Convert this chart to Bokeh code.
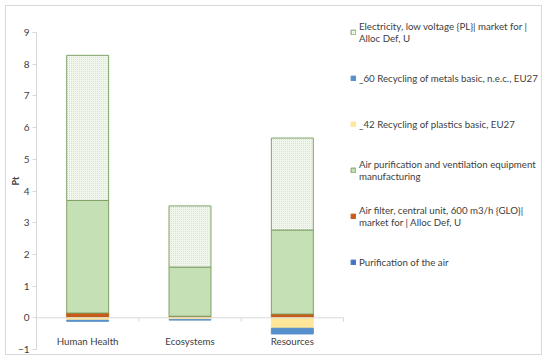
import numpy as np
from bokeh.plotting import figure
from bokeh.models import ColumnDataSource, Legend, LegendItem, Range1d, FixedTicker
from bokeh.embed import file_html
from bokeh.resources import INLINE

categories = ["Human Health", "Ecosystems", "Resources"]
series = [
    "Purification of the air",
    "Air filter, central unit, 600 m3/h {GLO}|\nmarket for | Alloc Def, U",
    "Air purification and ventilation equipment\nmanufacturing",
    "_42 Recycling of plastics basic, EU27",
    "_60 Recycling of metals basic, n.e.c., EU27",
    "Electricity, low voltage {PL}| market for |\nAlloc Def, U",
]
purification = [0.0, 0.0, 0.0]
air_filter = [0.15, 0.05, 0.12]
equipment = [3.55, 1.55, 2.65]
plastics = [-0.08, -0.06, -0.33]
metals = [-0.03, -0.01, -0.18]
electricity = [4.58, 1.93, 2.90]
y_ticks = [-1, 0, 1, 2, 3, 4, 5, 6, 7, 8, 9]

values = [purification, air_filter, equipment, plastics, metals, electricity]
fills = ["#4472c4", "#c65b1a", "#c5e0b4", "#ffe699", "#5590cc", "#f1f7ec"]
lines = ["#4472c4", "#c65b1a", "#7fa266", "#ffe699", "#5590cc", "#7fa266"]

W, H = 537, 350
LEFT = 30
TOP = 6
BOTTOM = 7
FRAME_W = W - LEFT
FRAME_H = H - TOP - BOTTOM
PX_PER_UNIT = 31.7
ncat = len(categories)
x_end = ncat * FRAME_W / 307.0
y_end = y_ticks[0] + FRAME_H / PX_PER_UNIT

p = figure(width=W, height=H, output_backend="svg", toolbar_location=None,
           x_range=Range1d(0, x_end), y_range=Range1d(y_ticks[0], y_end),
           min_border_left=LEFT, min_border_top=TOP, min_border_bottom=BOTTOM, min_border_right=0)
p.styles = {"border": "1px solid #d9d9d9", "margin": "5px 0 0 5px"}
p.outline_line_color = None
p.grid.visible = False
p.xaxis.visible = False

xs = np.arange(ncat) + 0.5
pos = np.zeros(ncat)
neg = np.zeros(ncat)
renderers = []
for name, vals, fc, lc in zip(series, values, fills, lines):
    v = np.array(vals, dtype=float)
    bottom = np.where(v >= 0, pos, neg + v)
    top = np.where(v >= 0, pos + v, neg)
    pos = np.where(v >= 0, pos + v, pos)
    neg = np.where(v < 0, neg + v, neg)
    src = ColumnDataSource(dict(x=xs, bottom=bottom, top=top))
    kw = {}
    if name.startswith("Electricity"):
        kw = dict(hatch_pattern="dot", hatch_color="#c9dfba", hatch_scale=2, hatch_weight=1)
    r = p.vbar(x="x", bottom="bottom", top="top", width=0.41, source=src,
               fill_color=fc, line_color=lc, line_width=1, **kw)
    renderers.append(r)

# zero line & boundary ticks
p.segment(x0=[0], y0=[0], x1=[ncat], y1=[0], line_color="#d9d9d9", line_width=1)
bx = np.arange(ncat + 1)
p.segment(x0=bx, y0=np.zeros(len(bx)), x1=bx, y1=np.full(len(bx), -0.13),
          line_color="#d9d9d9", line_width=1)

p.text(x=xs, y=np.full(len(xs), -0.72), text=categories, text_align="center",
       text_baseline="middle", text_font_size="9.7px", text_color="#404040",
       text_font={"value": "Lato"})

yax = p.yaxis[0]
yax.ticker = FixedTicker(ticks=y_ticks)
yax.bounds = (y_ticks[0], y_ticks[-1])
yax.axis_line_color = "#d9d9d9"
yax.major_tick_line_color = "#d9d9d9"
yax.major_tick_in = 0
yax.major_tick_out = 4
yax.minor_tick_line_color = None
yax.major_label_text_font = "Lato"
yax.major_label_text_font_size = "10px"
yax.major_label_text_color = "#404040"
yax.major_label_standoff = 3
yax.axis_label = "Pt"
yax.axis_label_text_font = "Lato"
yax.axis_label_text_font_size = "9px"
yax.axis_label_text_font_style = "bold"
yax.axis_label_text_color = "#404040"
yax.axis_label_standoff = -6

order = [5, 4, 3, 2, 1, 0]
items = [LegendItem(label=series[i], renderers=[renderers[i]]) for i in order]
legend = Legend(items=items, location=(314, 69), orientation="vertical",
                label_text_font="Lato", label_text_font_size="9.7px",
                label_text_line_height=1.2,
                label_text_color="#404040", glyph_width=6, glyph_height=6,
                label_standoff=3, spacing=10, label_height=36,
                border_line_color=None, background_fill_alpha=0, padding=0, margin=0)
p.add_layout(legend, "center")

open("out.html", "w").write(file_html(p, INLINE))
